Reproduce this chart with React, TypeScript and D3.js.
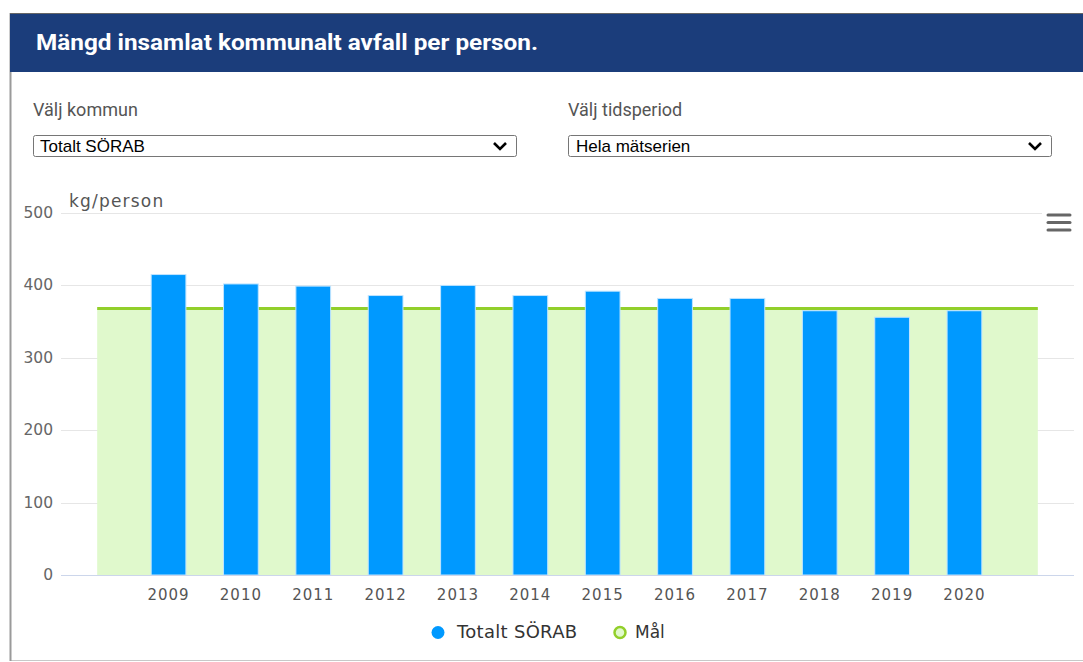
import React from "react";
import * as d3 from "d3";

const title = "Mängd insamlat kommunalt avfall per person.";
const kommunLabel = "Välj kommun";
const kommunValue = "Totalt SÖRAB";
const periodLabel = "Välj tidsperiod";
const periodValue = "Hela mätserien";
const yAxisTitle = "kg/person";

// Categories (blank padding categories at both ends, as in the original chart)
const categories = ["", "2009", "2010", "2011", "2012", "2013", "2014", "2015", "2016", "2017", "2018", "2019", "2020", ""];
const totalValues = [null, 415, 402, 399, 386, 400, 386, 392, 382, 382, 365, 356, 365, null];
const goalValues = [368, 368, 368, 368, 368, 368, 368, 368, 368, 368, 368, 368, 368, 368];
const yTicks = [0, 100, 200, 300, 400, 500];
const seriesNames = ["Totalt SÖRAB", "Mål"];

const W = 1083;
const H = 662;
const plotLeft = 61;
const plotRight = 1074;
const plotTop = 213;
const plotBottom = 575;

export default function App() {
  const x = d3.scaleBand<number>().domain(d3.range(categories.length)).range([plotLeft, plotRight]).paddingInner(0).paddingOuter(0);
  const y = d3.scaleLinear().domain([0, 500]).range([plotBottom, plotTop]);
  const bw = x.bandwidth();
  const barW = bw * 0.6 * 0.8;
  const cx = (i: number) => (x(i) as number) + bw / 2;

  const area = d3.area<number>().x((_, i) => cx(i)).y0(y(0)).y1((d) => y(d));
  const line = d3.line<number>().x((_, i) => cx(i)).y((d) => y(d));

  const axisFont = "'DejaVu Sans', Verdana, sans-serif";

  const chevron = (x0: number, yc: number) => `M${x0},${yc - 3} L${x0 + 6},${yc + 3} L${x0 + 12},${yc - 3}`;

  return (
    <svg width={W} height={H} style={{ position: "absolute", left: 0, top: 0 }} xmlns="http://www.w3.org/2000/svg">
      <rect x={0} y={0} width={W} height={H} fill="#ffffff" />
      {/* card */}
      <rect x={10.5} y={13.5} width={1090} height={647} fill="#ffffff" stroke="#c8c8c8" strokeWidth={1} />
      <line x1={10.5} y1={13} x2={10.5} y2={661} stroke="#9a9a9a" strokeWidth={2} />
      <rect x={10} y={14} width={W} height={58} fill="#1b3d7b" />
      <line x1={10} y1={13.5} x2={W} y2={13.5} stroke="#666" strokeWidth={1} />
      <text x={36} y={50} fill="#ffffff" fontFamily="Roboto, Arial, sans-serif" fontWeight="bold" fontSize={22} textLength={502} lengthAdjust="spacingAndGlyphs">
        {title}
      </text>

      {/* selectors */}
      <text x={33} y={116} fill="#555" fontFamily="Roboto, Arial, sans-serif" fontSize={18}>{kommunLabel}</text>
      <rect x={33.5} y={135.5} width={483} height={21} rx={2} fill="#fff" stroke="#767676" />
      <text x={40} y={152} fill="#000" fontFamily="'Liberation Sans', Arial, sans-serif" fontSize={17}>{kommunValue}</text>
      <path d={chevron(494, 146)} fill="none" stroke="#000" strokeWidth={2.6} />

      <text x={568} y={116} fill="#555" fontFamily="Roboto, Arial, sans-serif" fontSize={18}>{periodLabel}</text>
      <rect x={568.5} y={135.5} width={483} height={21} rx={2} fill="#fff" stroke="#767676" />
      <text x={576} y={152} fill="#000" fontFamily="'Liberation Sans', Arial, sans-serif" fontSize={17}>{periodValue}</text>
      <path d={chevron(1029, 146)} fill="none" stroke="#000" strokeWidth={2.6} />

      {/* gridlines */}
      {yTicks.filter((t) => t > 0).map((t) => (
        <line key={t} x1={plotLeft} x2={t === 500 ? 1042 : plotRight} y1={Math.round(y(t)) + 0.5} y2={Math.round(y(t)) + 0.5} stroke="#e6e6e6" strokeWidth={1} />
      ))}

      {/* goal area */}
      <path d={area(goalValues) || ""} fill="#e0f9cc" />
      <path d={line(goalValues) || ""} fill="none" stroke="#92cf2a" strokeWidth={3} />

      {/* bars */}
      {totalValues.map((v, i) =>
        v == null ? null : (
          <rect key={i} x={cx(i) - barW / 2 - 1} y={y(v)} width={barW} height={y(0) - y(v)} fill="#0099ff" stroke="#bfe4ff" strokeWidth={1} />
        )
      )}

      {/* x axis line */}
      <line x1={plotLeft} x2={plotRight} y1={plotBottom + 0.5} y2={plotBottom + 0.5} stroke="#ccd6eb" strokeWidth={1} />

      {/* y tick labels */}
      {yTicks.map((t) => (
        <text key={t} x={53} y={y(t) + 5} textAnchor="end" fill="#666" fontFamily={axisFont} fontSize={15.5}>{t}</text>
      ))}
      <text x={69} y={207} fill="#555" fontFamily={axisFont} fontSize={17} letterSpacing={1.2}>{yAxisTitle}</text>

      {/* x tick labels */}
      {categories.map((c, i) => (
        <text key={i} x={cx(i) - 1} y={600} textAnchor="middle" fill="#555" fontFamily={axisFont} fontSize={15} letterSpacing={1}>{c}</text>
      ))}

      {/* menu icon */}
      {[215, 222.5, 230].map((yy) => (
        <line key={yy} x1={1048} x2={1070} y1={yy} y2={yy} stroke="#666" strokeWidth={3} strokeLinecap="round" />
      ))}

      {/* legend */}
      <circle cx={438} cy={632.5} r={6.5} fill="#0099ff" />
      <text x={457} y={638} fill="#333" fontFamily={axisFont} fontSize={18} letterSpacing={0.3}>{seriesNames[0]}</text>
      <circle cx={620} cy={632.5} r={5.5} fill="#e0f9cc" stroke="#92cf2a" strokeWidth={2.5} />
      <text x={635} y={638} fill="#333" fontFamily={axisFont} fontSize={17}>{seriesNames[1]}</text>
    </svg>
  );
}
